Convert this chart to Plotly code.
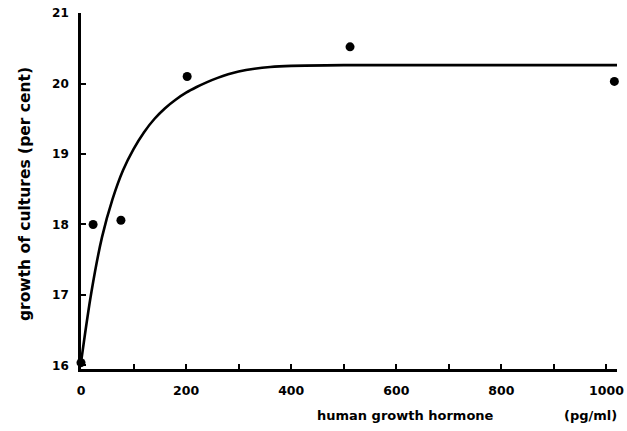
import plotly.graph_objects as go

# measured data points
dose = [0, 23, 76, 202, 512, 1015]
growth = [16.04, 18.0, 18.06, 20.1, 20.52, 20.03]

# fitted curve
curve_x = [0, 20, 40, 60, 80, 100, 120, 140, 160, 180, 200, 220, 240, 260, 280, 300, 330, 360, 400, 500, 1020]
curve_y = [16.04, 17.05, 17.82, 18.36, 18.77, 19.07, 19.31, 19.50, 19.65, 19.77, 19.87, 19.95, 20.02, 20.08, 20.13, 20.17, 20.21, 20.235, 20.25, 20.26, 20.26]

x_tickvals = [0, 100, 200, 300, 400, 500, 600, 700, 800, 900, 1000]
x_ticktext = ["0", "", "200", "", "400", "", "600", "", "800", "", "1000"]
y_tickvals = [16, 17, 18, 19, 20, 21]
y_ticktext = ["16", "17", "18", "19", "20", "21"]

FONT = "DejaVu Sans"
W, H = 627, 431
L, R, T, B = 81, 9.5, 13, 62

fig = go.Figure()
fig.add_trace(go.Scatter(x=curve_x, y=curve_y, mode="lines",
                         line=dict(color="black", width=2.6, shape="spline", smoothing=1.0),
                         hoverinfo="skip", showlegend=False))
fig.add_trace(go.Scatter(x=dose, y=growth, mode="markers",
                         marker=dict(color="black", size=9),
                         cliponaxis=False, showlegend=False))

fig.update_layout(
    width=W, height=H,
    margin=dict(l=L, r=R, t=T, b=B),
    paper_bgcolor="white", plot_bgcolor="white",
    font=dict(family=FONT, color="black", size=11),
    xaxis=dict(range=[0, 1020], tickvals=x_tickvals, ticktext=x_ticktext,
               ticks="inside", ticklen=5, tickwidth=2, tickcolor="black",
               showline=True, linecolor="black", linewidth=2.6,
               showgrid=False, zeroline=False, automargin=False,
               ticklabeloverflow="allow", ticklabelstandoff=8,
               tickfont=dict(family=FONT, size=12.5, weight="bold")),
    yaxis=dict(range=[15.95, 21], tickvals=y_tickvals, ticktext=y_ticktext,
               ticks="inside", ticklen=5, tickwidth=2, tickcolor="black",
               showline=True, linecolor="black", linewidth=2.6,
               showgrid=False, zeroline=False, automargin=False,
               ticklabeloverflow="allow", ticklabelstandoff=7,
               tickfont=dict(family=FONT, size=12, weight="bold")),
    annotations=[
        dict(text="human growth hormone", x=406, y=415),
        dict(text="(pg/ml)", x=591, y=415),
        dict(text="growth of cultures (per cent)", x=25, y=194, textangle=-90,
             font=dict(family=FONT, size=15.5, weight="bold")),
    ],
)

# convert pixel-placed annotations to paper coords
pw = W - L - R
ph = H - T - B
for a in fig.layout.annotations:
    a.x = (a.x - L) / pw
    a.y = (H - B - a.y) / ph
    a.xref = "paper"
    a.yref = "paper"
    a.xanchor = "center"
    a.yanchor = "middle"
    a.showarrow = False
    if a.font.size is None:
        a.font = dict(family=FONT, size=13, weight="bold")

fig.write_html("out.html", config={"displayModeBar": False},
               post_script="document.body.style.margin='0';document.body.style.overflow='hidden';")
